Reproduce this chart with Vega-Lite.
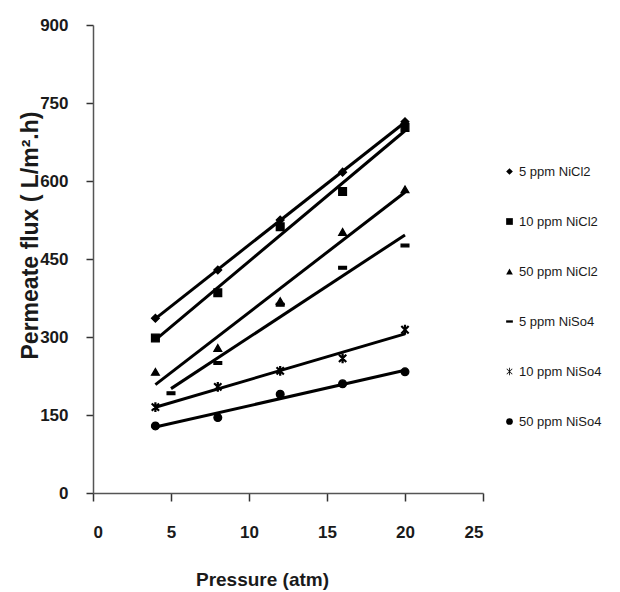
{
  "$schema": "https://vega.github.io/schema/vega-lite/v6.json",
  "autosize": "none",
  "width": 390,
  "height": 468,
  "padding": {"left": 93, "top": 25, "right": 137, "bottom": 99},
  "background": "white",
  "config": {
    "view": {"stroke": null},
    "font": "Liberation Sans"
  },
  "data": {
    "values": [
      {"P": 4, "flux": 336, "series": "5 ppm NiCl2"},
      {"P": 8, "flux": 429, "series": "5 ppm NiCl2"},
      {"P": 12, "flux": 525, "series": "5 ppm NiCl2"},
      {"P": 16, "flux": 617, "series": "5 ppm NiCl2"},
      {"P": 20, "flux": 714, "series": "5 ppm NiCl2"},
      {"P": 4, "flux": 298, "series": "10 ppm NiCl2"},
      {"P": 8, "flux": 385, "series": "10 ppm NiCl2"},
      {"P": 12, "flux": 512, "series": "10 ppm NiCl2"},
      {"P": 16, "flux": 580, "series": "10 ppm NiCl2"},
      {"P": 20, "flux": 703, "series": "10 ppm NiCl2"},
      {"P": 4, "flux": 233, "series": "50 ppm NiCl2"},
      {"P": 8, "flux": 279, "series": "50 ppm NiCl2"},
      {"P": 12, "flux": 369, "series": "50 ppm NiCl2"},
      {"P": 16, "flux": 502, "series": "50 ppm NiCl2"},
      {"P": 20, "flux": 584, "series": "50 ppm NiCl2"},
      {"P": 5, "flux": 192, "series": "5 ppm NiSo4"},
      {"P": 8, "flux": 250, "series": "5 ppm NiSo4"},
      {"P": 12, "flux": 362, "series": "5 ppm NiSo4"},
      {"P": 16, "flux": 433, "series": "5 ppm NiSo4"},
      {"P": 20, "flux": 476, "series": "5 ppm NiSo4"},
      {"P": 4, "flux": 165, "series": "10 ppm NiSo4"},
      {"P": 8, "flux": 204, "series": "10 ppm NiSo4"},
      {"P": 12, "flux": 235, "series": "10 ppm NiSo4"},
      {"P": 16, "flux": 259, "series": "10 ppm NiSo4"},
      {"P": 20, "flux": 314, "series": "10 ppm NiSo4"},
      {"P": 4, "flux": 129, "series": "50 ppm NiSo4"},
      {"P": 8, "flux": 145, "series": "50 ppm NiSo4"},
      {"P": 12, "flux": 190, "series": "50 ppm NiSo4"},
      {"P": 16, "flux": 210, "series": "50 ppm NiSo4"},
      {"P": 20, "flux": 233, "series": "50 ppm NiSo4"}
    ]
  },
  "encoding": {
    "x": {
      "field": "P", "type": "quantitative",
      "scale": {"domain": [0, 25], "nice": false, "zero": true},
      "axis": {
        "values": [0, 5, 10, 15, 20, 25],
        "grid": false,
        "domainColor": "#555555", "domainWidth": 1.5,
        "tickColor": "#333333", "tickSize": 8, "tickWidth": 1.5,
        "labelFont": "Liberation Sans, sans-serif",
        "labelFontWeight": "bold", "labelFontSize": 17, "labelColor": "#1a1a1a",
        "labelPadding": 31, "labelBaseline": "middle",
        "title": "Pressure (atm)",
        "titleFont": "Liberation Sans, sans-serif",
        "titleFontWeight": "bold", "titleFontSize": 19, "titleColor": "#1a1a1a",
        "titleX": 169, "titleY": 86, "titleBaseline": "middle", "titleAlign": "center"
      }
    },
    "y": {
      "field": "flux", "type": "quantitative",
      "scale": {"domain": [0, 900], "nice": false},
      "axis": {
        "values": [0, 150, 300, 450, 600, 750, 900],
        "grid": false,
        "domainColor": "#555555", "domainWidth": 1.5,
        "tickColor": "#333333", "tickSize": 7, "tickWidth": 1.5,
        "labelFont": "Liberation Sans, sans-serif",
        "labelFontWeight": "bold", "labelFontSize": 17, "labelColor": "#1a1a1a",
        "labelPadding": 18,
        "title": "Permeate flux ( L/m².h)",
        "titleFont": "Liberation Sans, sans-serif",
        "titleFontWeight": "bold", "titleFontSize": 23, "titleColor": "#1a1a1a",
        "titleX": -63, "titleY": 210, "titleBaseline": "middle", "titleAlign": "center", "titleAngle": -90
      }
    }
  },
  "layer": [
    {
      "transform": [{"regression": "flux", "on": "P", "groupby": ["series"]}],
      "mark": {"type": "line", "color": "black", "strokeWidth": 3},
      "encoding": {"detail": {"field": "series"}}
    },
    {
      "mark": {"type": "point", "filled": true, "fill": "black", "stroke": "black", "strokeWidth": 1.3, "opacity": 1, "size": 60},
      "encoding": {
        "shape": {
          "field": "series", "type": "nominal",
          "scale": {
            "domain": ["5 ppm NiCl2", "10 ppm NiCl2", "50 ppm NiCl2", "5 ppm NiSo4", "10 ppm NiSo4", "50 ppm NiSo4"],
            "range": ["diamond", "square", "triangle-up", "M-1,-0.35H1V0.35H-1Z", "M-0.12,-1.1H0.12V1.1H-0.12Z M-0.9,-0.75L-0.75,-0.9L0.9,0.75L0.75,0.9Z M0.75,-0.9L0.9,-0.75L-0.75,0.9L-0.9,0.75Z", "circle"]
          },
          "legend": {
            "title": null,
            "orient": "none",
            "legendX": 410,
            "legendY": 140,
            "rowPadding": 36,
            "symbolSize": 45,
            "symbolFillColor": "black",
            "symbolStrokeColor": "black",
            "symbolStrokeWidth": 1.3,
            "labelFont": "Liberation Sans, sans-serif",
            "labelFontSize": 13,
            "labelColor": "#1a1a1a",
            "labelOffset": 3,
            "encode": {
              "symbols": {"update": {"stroke": {"value": "black"}, "strokeWidth": {"value": 1.3}, "fill": {"value": "black"}, "opacity": {"value": 1}}}
            }
          }
        }
      }
    }
  ]
}
